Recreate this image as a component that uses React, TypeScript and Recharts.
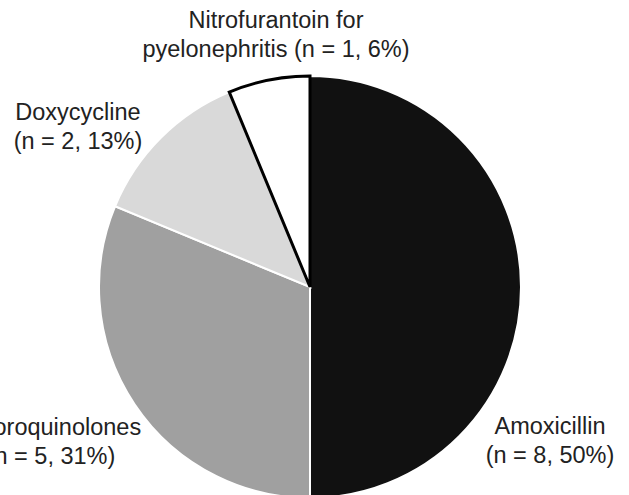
import { PieChart, Pie, Cell } from "recharts";

const drugs = ["Amoxicillin", "Fluoroquinolones", "Doxycycline", "Nitrofurantoin"];
const counts = [8, 5, 2, 1];
const titleLines = [
  ["Amoxicillin", ""],
  ["Fluoroquinolones", ""],
  ["Doxycycline", ""],
  ["Nitrofurantoin for", "pyelonephritis "],
];

const fills = ["#111111", "#a0a0a0", "#d9d9d9", "#ffffff"];
const strokes = ["#ffffff", "#ffffff", "#ffffff", "#000000"];
const strokeWidths = [2, 2, 2, 3];
// label anchor offsets from the pie centre (first baseline)
const labelOffsets = [
  [240, 147],
  [-259, 148],
  [-232, -167],
  [-34, -259],
];

const data = drugs.map((name, i) => ({ name, value: counts[i] }));
const total = counts.reduce((a, b) => a + b, 0);

function renderLabel(props: any) {
  const { cx, cy, index, value } = props;
  const [dx, dy] = labelOffsets[index];
  const pct = Math.round((value / total) * 100);
  const [l1, l2] = titleLines[index];
  const x = cx + dx;
  return (
    <text
      x={x}
      y={cy + dy}
      textAnchor="middle"
      fill="#222"
      fontSize={23.5}
      fontFamily="'Liberation Sans', Arial, sans-serif"
    >
      <tspan x={x}>{l1}</tspan>
      <tspan x={x} dy={29}>
        {`${l2}(n = ${value}, ${pct}%)`}
      </tspan>
    </text>
  );
}

export default function App() {
  return (
    <div style={{ position: "absolute", left: 0, top: 0, background: "#fff" }}>
      <PieChart width={629} height={495}>
        <Pie
          data={data}
          dataKey="value"
          nameKey="name"
          cx={305}
          cy={282}
          outerRadius={211}
          startAngle={90}
          endAngle={-270}
          label={renderLabel}
          labelLine={false}
          isAnimationActive={false}
        >
          {data.map((d, i) => (
            <Cell
              key={d.name}
              fill={fills[i]}
              stroke={strokes[i]}
              strokeWidth={strokeWidths[i]}
            />
          ))}
        </Pie>
      </PieChart>
    </div>
  );
}
